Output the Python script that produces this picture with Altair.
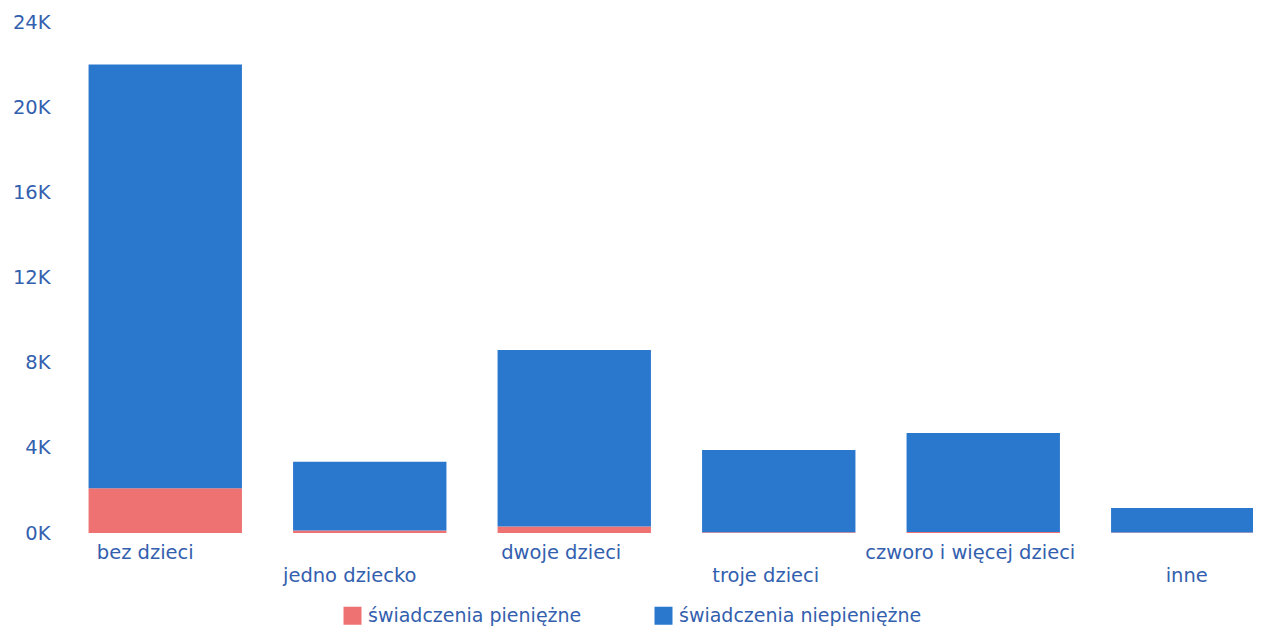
import altair as alt
import pandas as pd

categories = ["bez dzieci", "jedno dziecko", "dwoje dzieci", "troje dzieci",
              "czworo i więcej dzieci", "inne"]
pieniezne = [2100, 120, 300, 40, 50, 20]
niepieniezne = [19900, 3230, 8300, 3860, 4650, 1150]
series = ["świadczenia pieniężne", "świadczenia niepieniężne"]
colors = ["#EE7272", "#2A78CE"]
y_ticks = [0, 4000, 8000, 12000, 16000, 20000, 24000]

rows = []
for c, p, n in zip(categories, pieniezne, niepieniezne):
    rows.append({"cat": c, "series": series[0], "value": p, "ord": 0})
    rows.append({"cat": c, "series": series[1], "value": n, "ord": 1})
df = pd.DataFrame(rows)

TXT = "#3360AE"
FONT = "DejaVu Sans"

chart = alt.Chart(df).mark_bar(clip=True).encode(
    x=alt.X("cat:N", sort=categories, title=None,
            scale=alt.Scale(range=[0, 1227], paddingInner=0.25, paddingOuter=0.125),
            axis=alt.Axis(labelAngle=0, domain=False, ticks=False, grid=False,
                          labelOverlap=False, labelLimit=400,
                          labelOffset={"condition": [
                              {"test": "datum.value == 'bez dzieci' || datum.value == 'jedno dziecko'",
                               "value": -20},
                              {"test": "datum.value == 'inne'", "value": -1}],
                              "value": -13},
                          labelPadding={"condition": {
                              "test": "indexof(['jedno dziecko','troje dzieci','inne'], datum.value) >= 0",
                              "value": 33}, "value": 10},
                          labelFontSize=19.5, labelColor=TXT, labelFont=FONT)),
    y=alt.Y("value:Q", stack="zero", title=None,
            scale=alt.Scale(domain=[0, 24000], nice=False),
            axis=alt.Axis(values=y_ticks, labelExpr="datum.value / 1000 + 'K'",
                          domain=False, ticks=False, grid=False, labelPadding=13,
                          labelFontSize=19.5, labelColor=TXT, labelFont=FONT)),
    color=alt.Color("series:N", sort=series,
                    scale=alt.Scale(domain=series, range=colors),
                    legend=alt.Legend(title=None, orient="none", direction="horizontal",
                                      legendX=280, legendY=584,
                                      symbolType="square", symbolSize=324,
                                      symbolStrokeWidth=0, symbolOpacity=1,
                                      labelFontSize=19, labelColor=TXT, labelFont=FONT,
                                      labelLimit=400,
                                      labelOffset=6, columnPadding=72)),
    order=alt.Order("ord:Q", sort="ascending"),
).properties(
    width=1190, height=511, autosize="none",
    padding={"left": 55, "top": 14, "right": 0, "bottom": 93},
).configure_view(stroke=None)

chart.save("out.html", embed_options={"renderer": "svg", "actions": False})
